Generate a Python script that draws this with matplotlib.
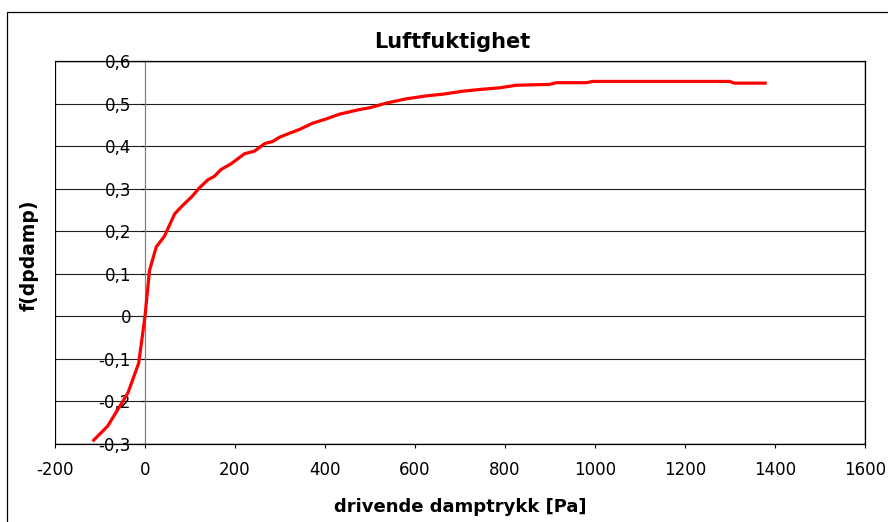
import matplotlib
matplotlib.use("Agg")
import matplotlib.pyplot as plt
from matplotlib.patches import Rectangle
from matplotlib.ticker import FuncFormatter, MultipleLocator

# Data
dp = [-114, -83, -57, -38, -14, 0, 10, 25, 43, 66, 84, 103, 121, 140, 154, 169,
      192, 221, 243, 266, 284, 299, 328, 343, 373, 403, 432, 477, 499, 536, 580,
      625, 662, 706, 743, 788, 825, 899, 914, 981, 995, 1299, 1310, 1378]
fval = [-0.291, -0.258, -0.213, -0.18, -0.11, 0.0, 0.108, 0.163, 0.188, 0.241,
        0.261, 0.28, 0.302, 0.321, 0.329, 0.345, 0.359, 0.382, 0.388, 0.406,
        0.411, 0.421, 0.433, 0.439, 0.454, 0.464, 0.475, 0.486, 0.49, 0.501,
        0.511, 0.518, 0.522, 0.529, 0.533, 0.537, 0.543, 0.545, 0.549, 0.549,
        0.552, 0.552, 0.548, 0.548]

title = "Luftfuktighet"
xlabel = "drivende damptrykk [Pa]"
ylabel = "f(dpdamp)"

plt.rcParams['font.family'] = ['DejaVu Sans']

W, H = 888, 522
fig = plt.figure(figsize=(W / 100, H / 100), dpi=100)
L, R, T, B = 55, 865, 61, 444
ax = fig.add_axes([L / W, (H - B) / H, (R - L) / W, (B - T) / H])

# outer chart border
fig.patches.append(Rectangle((7 / W, -0.1), 1.2, (H - 12) / H + 0.1,
                             transform=fig.transFigure, fill=False,
                             edgecolor='black', linewidth=0.9))

ax.plot(dp, fval, color='#ff0000', linewidth=2.3, solid_joinstyle='round',
        zorder=5)

ax.set_xlim(-200, 1600)
ax.set_ylim(-0.3, 0.6)
ax.xaxis.set_major_locator(MultipleLocator(200))
ax.yaxis.set_major_locator(MultipleLocator(0.1))

ax.yaxis.grid(True, color='#202020', linewidth=0.8)
ax.set_axisbelow(True)

def yfmt(v, pos):
    if abs(v) < 1e-9:
        return "0"
    return f"{v:.1f}".replace('.', ',')

ax.yaxis.set_major_formatter(FuncFormatter(yfmt))
ax.xaxis.set_major_formatter(FuncFormatter(lambda v, p: f"{int(round(v))}"))

for s in ['top', 'right', 'bottom']:
    ax.spines[s].set_color('black')
    ax.spines[s].set_linewidth(0.9)
ax.spines['left'].set_position(('data', 0))
ax.spines['left'].set_color('#808080')
ax.spines['left'].set_linewidth(0.9)
# left border of plot area
ax.add_patch(Rectangle((0, 0), 1, 1, transform=ax.transAxes, fill=False,
                       edgecolor='black', linewidth=0.9, zorder=4))

ax.tick_params(axis='y', direction='out', length=3, width=0.8, pad=7,
               labelsize=12, color='black')
ax.tick_params(axis='x', direction='out', length=3, width=0.8, pad=9,
               labelsize=12, color='black')

fig.text(452 / W, 1 - 48 / H, title, ha='center', va='baseline',
         fontsize=15, fontweight='bold')
fig.text(460 / W, 1 - 512 / H, xlabel, ha='center', va='baseline',
         fontsize=13, fontweight='bold')
fig.text(29 / W, 1 - 255 / H, ylabel, ha='center', va='center',
         fontsize=13.5, fontweight='bold', rotation=90)

fig.savefig("out.png", dpi=100)
